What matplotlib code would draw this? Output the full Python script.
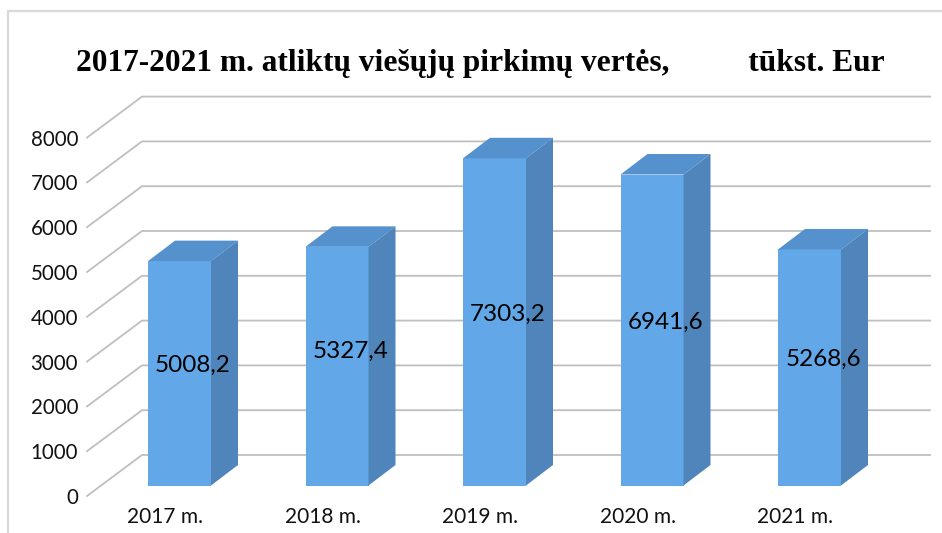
import numpy as np
import matplotlib.pyplot as plt
from matplotlib.patches import Polygon

plt.rcParams['font.family'] = ['Lato', 'DejaVu Sans']

# duomenys
categories = ['2017 m.', '2018 m.', '2019 m.', '2020 m.', '2021 m.']
values = [5008.2, 5327.4, 7303.2, 6941.6, 5268.6]
value_labels = ['5008,2', '5327,4', '7303,2', '6941,6', '5268,6']
y_ticks = [0, 1000, 2000, 3000, 4000, 5000, 6000, 7000, 8000]
title = '2017-2021 m. atliktų viešųjų pirkimų vertės,          tūkst. Eur'

W, H = 942, 533
PX_X = 157.5  # pixels per category
PX_Y = 0.0448  # pixels per value unit
X0, Y0 = 179.5, 485.5  # first bar centre / baseline in pixels

fig = plt.figure(figsize=(W / 100, H / 100), dpi=100)
ax = fig.add_axes([0, 0, 1, 1])
ax.set_xlim(-X0 / PX_X, (W - X0) / PX_X)
ax.set_ylim((Y0 - H) / PX_Y, Y0 / PX_Y)
ax.axis('off')

dx = lambda px: px / PX_X
dy = lambda px: px / PX_Y

# outer frame
ax.plot([dx(8 - X0), dx(8 - X0), dx(W - X0)], [dy(Y0 - H), dy(Y0 - 11), dy(Y0 - 11)],
        color='#d9d9d9', lw=1.6, zorder=1)

# gridlines: slanted floor part and back wall part
grid_left = dx(87 - X0)
grid_back = dx(142 - X0)
grid_right = dx(930 - X0)
for v in y_ticks:
    front = v - dy(10.5)
    back = v + dy(30.5)
    ax.plot([grid_left, grid_back, grid_right], [front, back, back],
            color='#bfbfbf', lw=1.3, zorder=2, solid_joinstyle='miter')
    ax.text(dx(78 - X0), front, str(v), ha='right', va='center_baseline', fontsize=14.8, color='#111111')

# bars
half = dx(31.5)
depth_x = dx(27)
depth_y = dy(20.5)
for i, (cat, val, lab) in enumerate(zip(categories, values, value_labels)):
    l, r = i - half, i + half
    ax.add_patch(Polygon([(l, 0), (r, 0), (r, val), (l, val)], fc='#62a8e8', ec='none', zorder=3))
    ax.add_patch(Polygon([(l, val), (r, val), (r + depth_x, val + depth_y), (l + depth_x, val + depth_y)],
                         fc='#5591cc', ec='none', zorder=3))
    ax.add_patch(Polygon([(r, 0), (r + depth_x, depth_y), (r + depth_x, val + depth_y), (r, val)],
                         fc='#4f85ba', ec='none', zorder=3))
    # 2018 label sits a little higher in the original
    nudge = dy(7) if i == 1 else 0
    ax.text(i + dx(13.5), val / 2 + dy(10) + nudge, lab, ha='center', va='center_baseline',
            fontsize=17.5, color='#000000', zorder=4)
    ax.text(i - dx(14.5), dy(-29.5), cat, ha='center', va='center_baseline', fontsize=15, color='#111111')

ax.text(dx(480.5 - X0), dy(Y0 - 60), title, ha='center', va='center_baseline',
        family='Liberation Serif', fontweight='bold', fontsize=22.6, color='#000000')

fig.savefig('out.png', dpi=100)
